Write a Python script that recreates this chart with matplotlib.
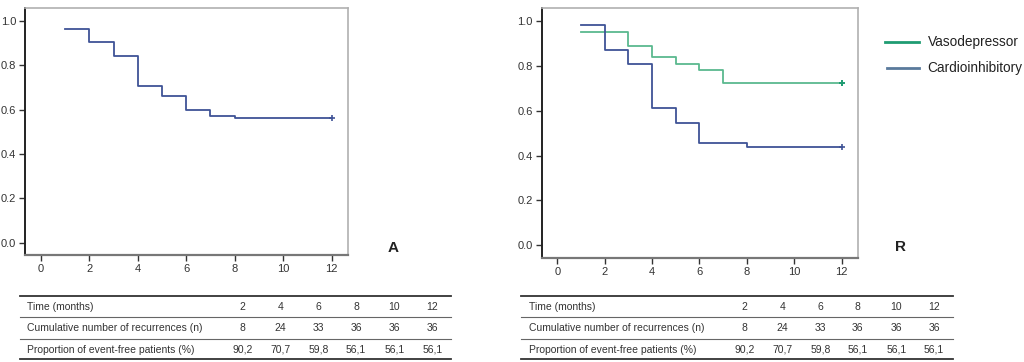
import matplotlib
matplotlib.use("Agg")
import matplotlib.pyplot as plt
from matplotlib.lines import Line2D

plt.rcParams['font.family'] = ['Liberation Sans Narrow', 'Liberation Sans', 'DejaVu Sans']

# ---- data ----
overall_t = [1, 2, 3, 4, 5, 6, 7, 8, 12]
overall_s = [0.963, 0.902, 0.841, 0.707, 0.659, 0.598, 0.573, 0.561, 0.561]

vaso_t = [1, 3, 4, 5, 6, 7, 12]
vaso_s = [0.948, 0.889, 0.837, 0.809, 0.780, 0.724, 0.724]

cardio_t = [1, 2, 3, 4, 5, 6, 8, 12]
cardio_s = [0.981, 0.870, 0.807, 0.611, 0.547, 0.458, 0.437, 0.437]

x_ticks = [0, 2, 4, 6, 8, 10, 12]
y_ticks = [0.0, 0.2, 0.4, 0.6, 0.8, 1.0]

table_cols = ["2", "4", "6", "8", "10", "12"]
row_labels = ["Time (months)", "Cumulative number of recurrences (n)",
              "Proportion of event-free patients (%)"]
row_recurrences = ["8", "24", "33", "36", "36", "36"]
row_eventfree = ["90,2", "70,7", "59,8", "56,1", "56,1", "56,1"]

blue = "#3f5396"
green = "#5ab98f"
legend_green = "#1f9c72"
legend_blue = "#5a7a9c"

W, H = 1024, 362
fig = plt.figure(figsize=(W / 100, H / 100), dpi=100)


def px_axes(l, t, r, b):
    return fig.add_axes([l / W, (H - b) / H, (r - l) / W, (b - t) / H])


def style_axes(ax):
    ax.set_xlim(-0.66, 12.68)
    ax.set_ylim(-0.055, 1.057)
    ax.set_xticks(x_ticks)
    ax.set_yticks(y_ticks)
    ax.set_yticklabels([f"{v:.1f}" for v in y_ticks])
    ax.tick_params(direction='out', length=4, width=1, labelsize=8, colors='#333333', pad=2.5)
    ax.spines['left'].set_color('#222222')
    ax.spines['left'].set_linewidth(1.4)
    ax.spines['bottom'].set_color('#777777')
    ax.spines['bottom'].set_linewidth(1.6)
    ax.spines['top'].set_color('#b0b0b0')
    ax.spines['right'].set_color('#b0b0b0')
    ax.spines['top'].set_linewidth(1.2)
    ax.spines['right'].set_linewidth(1.2)


# Panel A
axA = px_axes(25, 8, 348, 255)
style_axes(axA)
axA.step(overall_t, overall_s, where='post', color=blue, lw=1.3)
axA.plot([overall_t[-1]], [overall_s[-1]], marker='+', color=blue, ms=5, mew=1.2)

# Panel B
axB = px_axes(541.7, 8, 857.7, 257.7)
style_axes(axB)
axB.step(vaso_t, vaso_s, where='post', color=green, lw=1.3)
axB.plot([vaso_t[-1]], [vaso_s[-1]], marker='+', color=legend_green, ms=5, mew=1.4)
axB.step(cardio_t, cardio_s, where='post', color=blue, lw=1.3)
axB.plot([cardio_t[-1]], [cardio_s[-1]], marker='+', color=blue, ms=5, mew=1.2)

# Overlay axes in pixel coordinates for labels, legend, tables
ov = fig.add_axes([0, 0, 1, 1])
ov.set_xlim(0, W)
ov.set_ylim(H, 0)
ov.axis('off')

ov.text(393, 248, "A", fontsize=11, fontweight='bold', ha='center', va='center',
        family=['Liberation Sans', 'DejaVu Sans'], color='#222222')
ov.text(900, 247, "R", fontsize=11, fontweight='bold', ha='center', va='center',
        family=['Liberation Sans', 'DejaVu Sans'], color='#222222')

# legend
ov.add_line(Line2D([885, 919], [42.3, 42.3], color=legend_green, lw=2))
ov.text(927.5, 42.3, "Vasodepressor", fontsize=9.8, ha='left', va='center', color='#222222')
ov.add_line(Line2D([887, 919], [67.7, 67.7], color=legend_blue, lw=2))
ov.text(927.5, 67.7, "Cardioinhibitory", fontsize=9.8, ha='left', va='center', color='#222222')


def draw_table(x0, x1, label_x, col_x):
    ys_lines = [295.7, 317.3, 338.7, 359.3]
    widths = [1.3, 0.8, 0.8, 1.3]
    colors = ['#333333', '#666666', '#666666', '#333333']
    for y, w, c in zip(ys_lines, widths, colors):
        ov.add_line(Line2D([x0, x1], [y, y], color=c, lw=w))
    row_y = [306.7, 328.3, 349.8]
    rows = [table_cols, row_recurrences, row_eventfree]
    for lab, y, vals in zip(row_labels, row_y, rows):
        ov.text(label_x, y, lab, fontsize=7.5, ha='left', va='center', color='#333333')
        for cx, v in zip(col_x, vals):
            ov.text(cx, y, v, fontsize=7.5, ha='center', va='center', color='#333333')


draw_table(20, 450.7, 26.7, [242.7, 280.7, 318.3, 356, 394.3, 432.3])
draw_table(521.3, 952.7, 528.7, [744.7, 782.7, 820.3, 857.7, 896.3, 934])

fig.savefig("out.png", dpi=100)
